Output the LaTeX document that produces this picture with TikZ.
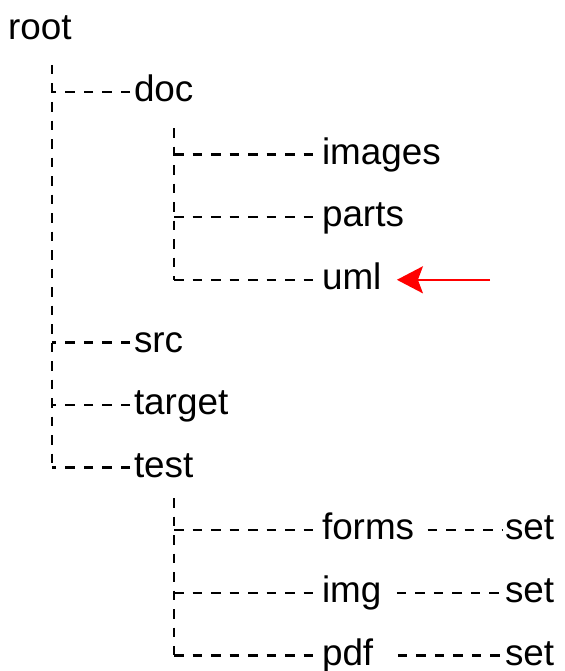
\documentclass[tikz,border=0pt]{standalone}
\usepackage{fontspec}
\setmainfont{Liberation Sans}
\usetikzlibrary{arrows.meta}

\begin{document}
% the names are set in this size; the mid anchors take their ex from it
\fontsize{37}{44}\selectfont
\begin{tikzpicture}[x=1bp,y=-1bp,
  entry/.style={anchor=mid west, inner sep=0pt, outer sep=0pt},
  branch/.style={line width=2.4bp, dash pattern=on 9.5bp off 9bp},
  pointer/.style={red, line width=2.2bp,
                  -{Stealth[length=26bp,width=27bp,inset=5bp]}}]
\useasboundingbox (0,0) rectangle (565,671);

% directory names
\node[entry] (root)   at (8,29.4)    {root};
\node[entry] (doc)    at (134,92)    {doc};
\node[entry] (images) at (322,154.6) {images};
\node[entry] (parts)  at (322,217.2) {parts};
\node[entry] (uml)    at (322,279.8) {uml};
\node[entry] (src)    at (134,342.4) {src};
\node[entry] (target) at (134,405)   {target};
\node[entry] (test)   at (134,467.6) {test};
\node[entry] (forms)  at (322,530.2) {forms};
\node[entry] (img)    at (322,592.8) {img};
\node[entry] (pdf)    at (322,655.4) {pdf};
\node[entry] (setA)   at (505,530.2) {set};
\node[entry] (setB)   at (505,592.8) {set};
\node[entry] (setC)   at (505,655.4) {set};

% tops of the vertical guides
\coordinate (rootdrop) at (52,65);
\coordinate (docdrop)  at (174,128);
\coordinate (testdrop) at (174,498);
\coordinate (umltail)  at (490,279.8);

% first level
\draw[branch] (rootdrop) -- (rootdrop |- test.mid west);
\foreach \c in {doc,src,target,test}
  \draw[branch] ([xshift=-4bp]\c.mid west) -- (rootdrop |- \c.mid west);

% children of doc
\draw[branch] (docdrop) -- (docdrop |- uml.mid west);
\foreach \c in {images,parts,uml}
  \draw[branch] (docdrop |- \c.mid west) -- (\c.mid west);

% children of test
\draw[branch] (testdrop) -- (testdrop |- pdf.mid west);
\foreach \c in {forms,img,pdf}
  \draw[branch] (testdrop |- \c.mid west) -- (\c.mid west);

% leaf links
\draw[branch] ([xshift=13.5bp]forms.mid east) -- ([xshift=-2bp]setA.mid west);
\draw[branch] ([xshift=15.5bp]img.mid east)   -- ([xshift=-2bp]setB.mid west);
\draw[branch] ([xshift=24.5bp]pdf.mid east)   -- ([xshift=-2bp]setC.mid west);

% marker
\draw[pointer] (umltail) -- ([xshift=15.5bp]uml.mid east);
\end{tikzpicture}
\end{document}
